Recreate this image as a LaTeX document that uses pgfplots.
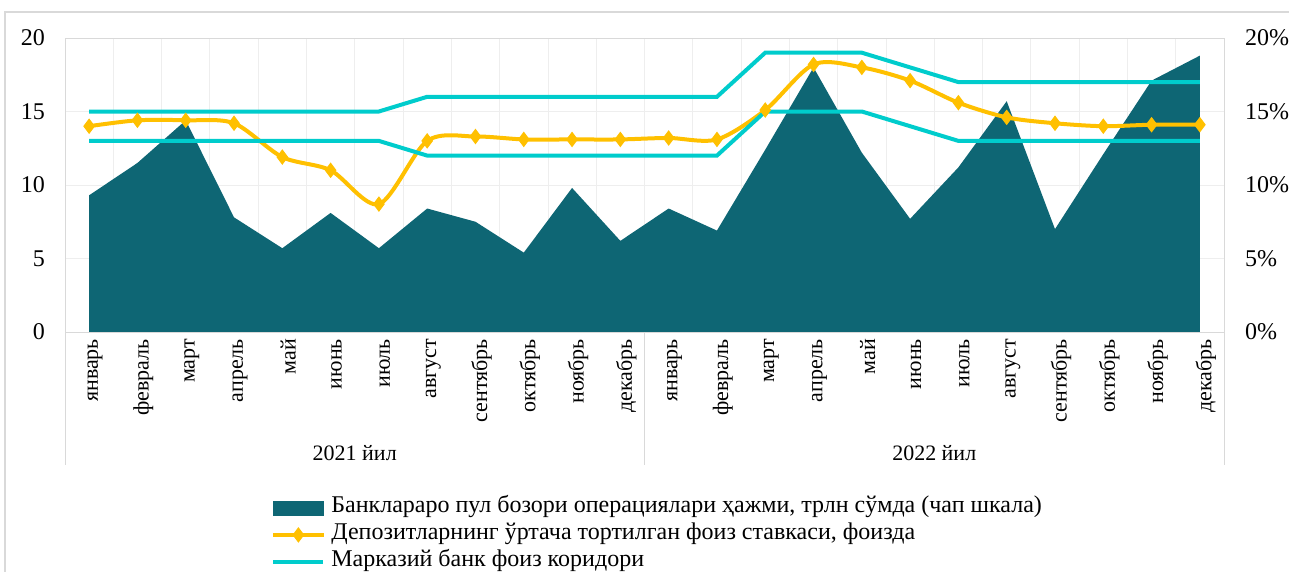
\documentclass[border=0pt]{standalone}
\usepackage{fontspec}
\setmainfont{Liberation Serif}
\usepackage{pgfplots}
\pgfplotsset{compat=1.18}
\definecolor{areac}{HTML}{0E6674}
\definecolor{yel}{HTML}{FFC000}
\definecolor{cor}{HTML}{00CCCC}
\definecolor{gridc}{HTML}{EEEEEE}
\definecolor{framec}{HTML}{D9D9D9}
\pgfplotsset{
  arealeg/.style={legend image code/.code={\fill[areac] (0pt,-3.5pt) rectangle (25pt,3.5pt);}},
  markleg/.style={legend image code/.code={\draw[##1, mark repeat=2, mark phase=2] plot coordinates {(0pt,0pt) (12.5pt,0pt) (25pt,0pt)};}},
  lineleg/.style={legend image code/.code={\draw[##1] (0pt,0pt) -- (25pt,0pt);}},
}
\begin{document}
\begin{tikzpicture}[font=\fontsize{11}{13}\selectfont]
\useasboundingbox (-32.5pt,-120pt) rectangle (612pt,166pt);
\draw[framec, line width=0.75pt] (-30pt,160pt) rectangle (640pt,-140pt);
\begin{axis}[
  at={(0pt,0pt)}, anchor=south west,
  scale only axis, width=579.5pt, height=147pt,
  xmin=-0.5, xmax=23.5, ymin=0, ymax=20,
  xtick={0,...,23},
  xticklabels={январь,февраль,март,апрель,май,июнь,июль,август,сентябрь,октябрь,ноябрь,декабрь,
               январь,февраль,март,апрель,май,июнь,июль,август,сентябрь,октябрь,ноябрь,декабрь},
  minor xtick={-0.5,0.5,...,23.5},
  xminorgrids, ymajorgrids,
  minor grid style={gridc}, major grid style={gridc},
  ytick={0,5,...,20},
  axis line style={framec},
  major tick length=0pt, minor tick length=0pt,
  xticklabel style={rotate=90, anchor=east, yshift=-3pt, font=\fontsize{11}{13}\selectfont},
  yticklabel style={xshift=-6.5pt, font=\fontsize{12}{14}\selectfont},
  /pgf/number format/assume math mode=true,
  clip=false,
]
% interbank market volume, trln sum
\addplot[fill=areac, draw=none] coordinates {
  (0,9.3) (1,11.5) (2,14.4) (3,7.8) (4,5.7) (5,8.1) (6,5.7) (7,8.4) (8,7.5) (9,5.4) (10,9.8) (11,6.2)
  (12,8.4) (13,6.9) (14,12.4) (15,18.0) (16,12.2) (17,7.7) (18,11.2) (19,15.7) (20,7.0) (21,12.1) (22,17.1) (23,18.8)
} \closedcycle;
\draw[framec] (axis cs:-0.5,0) -- ++(0pt,-66.5pt);
\draw[framec] (axis cs:11.5,0) -- ++(0pt,-66.5pt);
\draw[framec] (axis cs:23.5,0) -- ++(0pt,-66.5pt);
\node at (axis cs:5.5,0) [yshift=-60.5pt] {2021 йил};
\node at (axis cs:17.5,0) [yshift=-60.5pt] {2022 йил};
\end{axis}
\begin{axis}[
  at={(0pt,0pt)}, anchor=south west,
  scale only axis, width=579.5pt, height=147pt,
  xmin=-0.5, xmax=23.5, ymin=0, ymax=20,
  axis y line*=right, axis x line=none,
  ytick={0,5,...,20},
  yticklabel={\pgfmathprintnumber{\tick}\%},
  yticklabel style={xshift=7pt, font=\fontsize{12}{14}\selectfont},
  major tick length=0pt,
  axis line style={framec},
  /pgf/number format/assume math mode=true,
  legend style={at={(0,0)}, anchor=north west, xshift=100pt, yshift=-79pt,
    draw=none, fill=none, row sep=0pt, font=\fontsize{12}{14}\selectfont,
    nodes={inner xsep=3pt, inner ysep=0pt, text height=9pt, text depth=4.5pt}, cells={anchor=west}},
]
\addlegendimage{arealeg}
\addlegendentry{Банклараро пул бозори операциялари ҳажми, трлн сўмда (чап шкала)}
% average weighted deposit rate, %
\addplot[yel, line width=2pt, smooth, tension=0.5, mark=diamond*, mark size=3.5pt,
  mark options={fill=yel, draw=yel, line width=0.5pt}, markleg]
  coordinates {
  (0,14.0) (1,14.4) (2,14.4) (3,14.2) (4,11.9) (5,11.0) (6,8.7) (7,13.0) (8,13.3) (9,13.1) (10,13.1) (11,13.1)
  (12,13.2) (13,13.1) (14,15.1) (15,18.2) (16,18.0) (17,17.1) (18,15.6) (19,14.6) (20,14.2) (21,14.0) (22,14.1) (23,14.1)
};
\addlegendentry{Депозитларнинг ўртача тортилган фоиз ставкаси, фоизда}
% central bank corridor, upper
\addplot[cor, line width=2pt, lineleg] coordinates {
  (0,15) (1,15) (2,15) (3,15) (4,15) (5,15) (6,15) (7,16) (8,16) (9,16) (10,16) (11,16)
  (12,16) (13,16) (14,19) (15,19) (16,19) (17,18) (18,17) (19,17) (20,17) (21,17) (22,17) (23,17)
};
\addlegendentry{Марказий банк фоиз коридори}
% lower
\addplot[cor, line width=2pt, forget plot] coordinates {
  (0,13) (1,13) (2,13) (3,13) (4,13) (5,13) (6,13) (7,12) (8,12) (9,12) (10,12) (11,12)
  (12,12) (13,12) (14,15) (15,15) (16,15) (17,14) (18,13) (19,13) (20,13) (21,13) (22,13) (23,13)
};
\end{axis}
\end{tikzpicture}
\end{document}
